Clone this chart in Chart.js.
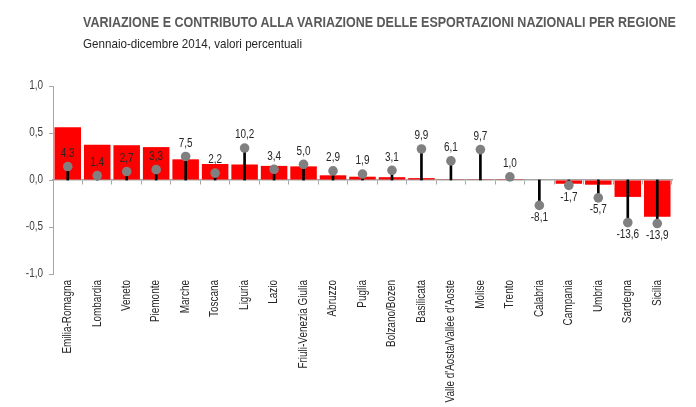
<!DOCTYPE html>
<html>
<head>
<meta charset="utf-8">
<script src="https://cdn.jsdelivr.net/npm/chart.js@4.4.1/dist/chart.umd.min.js"></script>
<style>
  html, body { margin: 0; padding: 0; background: #fff; }
  #wrap { position: relative; width: 696px; height: 407px; overflow: hidden; }
  #chart { position: absolute; left: 0; top: 0; }
  .ttl { position: absolute; left: 83px; white-space: nowrap; font-family: "Liberation Sans", Arial, sans-serif; transform-origin: 0 0; }
  #title { top: 14px; font-size: 14px; font-weight: bold; color: #595959; line-height: 16px; }
  #subtitle { top: 36px; font-size: 13px; color: #262626; line-height: 15px; }
</style>
</head>
<body>
<div id="wrap">
  <canvas id="chart" width="696" height="407"></canvas>
  <div id="title" class="ttl">VARIAZIONE E CONTRIBUTO ALLA VARIAZIONE DELLE ESPORTAZIONI NAZIONALI PER REGIONE</div>
  <div id="subtitle" class="ttl">Gennaio-dicembre 2014, valori percentuali</div>
</div>
<script>
const regions = [
  "Emilia-Romagna", "Lombardia", "Veneto", "Piemonte", "Marche", "Toscana",
  "Liguria", "Lazio", "Friuli-Venezia Giulia", "Abruzzo", "Puglia",
  "Bolzano/Bozen", "Basilicata", "Valle d'Aosta/Vallée d'Aoste", "Molise",
  "Trento", "Calabria", "Campania", "Umbria", "Sardegna", "Sicilia",
];
// contributo alla variazione (asse sinistro)
const contributo = [
  0.56, 0.375, 0.37, 0.35, 0.22, 0.17, 0.165, 0.15, 0.145, 0.05, 0.035,
  0.03, 0.02, 0.003, 0.003, 0.002, -0.005, -0.04, -0.05, -0.18, -0.39,
];
// variazione % (asse secondario nascosto)
const variazione = [
  4.3, 1.4, 2.7, 3.3, 7.5, 2.2, 10.2, 3.4, 5.0, 2.9, 1.9,
  3.1, 9.9, 6.1, 9.7, 1.0, -8.1, -1.7, -5.7, -13.6, -13.9,
];
const yTicks = [-1, -0.5, 0, 0.5, 1];

const FONT = "'Liberation Sans', Arial, sans-serif";
const NARROW = 0.83; // the original uses a condensed face
const fmt = (v) => v.toFixed(1).replace(".", ",");

// squeeze the html titles to the original widths
function fitWidth(id, w) {
  const el = document.getElementById(id);
  el.style.transform = "scaleX(" + (w / el.offsetWidth) + ")";
}
fitWidth("title", 593);
fitWidth("subtitle", 219);

function narrowText(ctx, text, x, y, align, rot) {
  ctx.save();
  ctx.translate(x, y);
  if (rot) ctx.rotate(rot);
  ctx.scale(NARROW, 1);
  ctx.textAlign = align;
  ctx.fillText(text, 0, 0);
  ctx.restore();
}

// condensed text: value labels, y ticks, category labels
const narrowLabels = {
  id: "narrowLabels",
  afterDatasetsDraw(chart) {
    const ctx = chart.ctx;
    const meta = chart.getDatasetMeta(2);
    ctx.save();
    ctx.textBaseline = "middle";
    ctx.font = "12px " + FONT;
    ctx.fillStyle = "#262626";
    meta.data.forEach((pt, i) => {
      const v = variazione[i];
      narrowText(ctx, fmt(v), pt.x, pt.y + (v >= 0 ? -13 : 12), "center");
    });

    const y = chart.scales.y;
    ctx.fillStyle = "#404040";
    yTicks.forEach((v) => {
      narrowText(ctx, fmt(v), y.right - 10, y.getPixelForValue(v), "right");
    });

    const xl = chart.scales.xl;
    ctx.fillStyle = "#262626";
    regions.forEach((r, i) => {
      narrowText(ctx, r, xl.getPixelForValue(i), xl.top + 6, "right", -Math.PI / 2);
    });
    ctx.restore();
  },
};

const ctx = document.getElementById("chart").getContext("2d");
new Chart(ctx, {
  type: "bar",
  data: {
    labels: regions,
    datasets: [
      {
        label: "Contributo",
        data: contributo,
        backgroundColor: "#ff0000",
        borderWidth: 0,
        barPercentage: 0.9,
        categoryPercentage: 1,
        grouped: false,
        yAxisID: "y",
        order: 3,
      },
      {
        label: "stem",
        data: variazione.map((v) => [0, v]),
        backgroundColor: "#000000",
        borderWidth: 0,
        barThickness: 2,
        grouped: false,
        yAxisID: "y2",
        order: 2,
      },
      {
        type: "line",
        label: "Variazione",
        data: variazione,
        showLine: false,
        pointRadius: 4.8,
        pointBackgroundColor: "#808080",
        pointBorderWidth: 0,
        yAxisID: "y2",
        order: 1,
      },
    ],
  },
  options: {
    responsive: false,
    animation: false,
    layout: { padding: { top: 86, right: 24, left: 0, bottom: 0 } },
    plugins: {
      legend: { display: false },
      tooltip: { enabled: false },
    },
    scales: {
      x: {
        position: { y: 0 },
        offset: true,
        ticks: { display: false },
        grid: {
          display: true,
          offset: true,
          drawOnChartArea: false,
          drawTicks: true,
          tickLength: 4,
          color: "#a6a6a6",
        },
        border: { color: "#a6a6a6", width: 1.5 },
      },
      xl: {
        type: "category",
        labels: regions,
        position: "bottom",
        offset: true,
        grid: { display: false, drawTicks: false },
        border: { display: false },
        ticks: { display: false },
        afterFit(s) { s.height = 133; },
      },
      y: {
        min: -1,
        max: 1,
        afterBuildTicks(s) { s.ticks = yTicks.map((v) => ({ value: v })); },
        ticks: { display: false },
        grid: {
          drawOnChartArea: false,
          drawTicks: true,
          tickLength: 4,
          color: "#a6a6a6",
        },
        border: { color: "#a6a6a6", width: 1 },
        afterFit(s) { s.width = 53; },
      },
      y2: {
        display: false,
        min: -30,
        max: 30,
      },
    },
  },
  plugins: [narrowLabels],
});
</script>
</body>
</html>
